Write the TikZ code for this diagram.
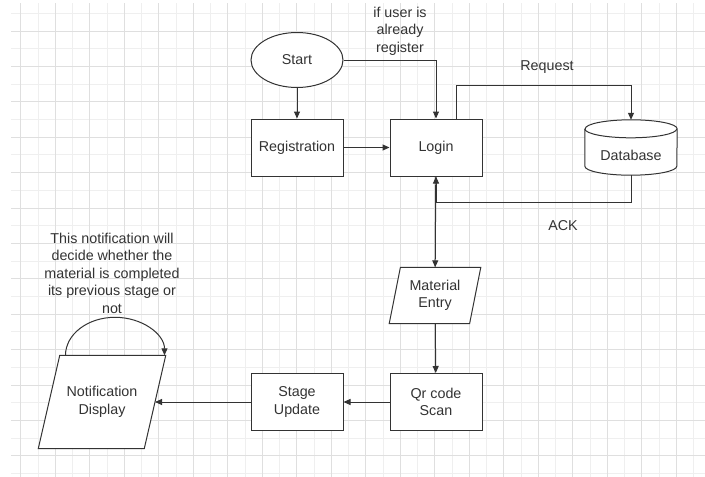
\documentclass[tikz,border=0pt]{standalone}
\usepackage{fontspec}
\setmainfont{Liberation Sans}
\usepackage{tikz}
\usetikzlibrary{arrows.meta,shapes.geometric}

\definecolor{inkc}{HTML}{333333}
\definecolor{gridmaj}{HTML}{DFDFDF}
\definecolor{gridmin}{HTML}{EFEFEF}

\tikzset{
  txt/.style={font=\fontsize{14.3}{17.5}\selectfont, text=inkc, align=center},
  box/.style={txt, draw=inkc, line width=1pt, fill=white, inner sep=2pt,
    minimum width=92pt, minimum height=57pt},
  startnode/.style={box, ellipse, minimum height=55pt},
  frame/.style={draw=none, inner sep=0pt},
  outline/.style={draw=inkc, line width=1pt, fill=white},
  arr/.style={draw=inkc, line width=1pt, -{Triangle[length=7pt,width=6pt]}},
  gridmajor/.style={draw=gridmaj, line width=1pt},
  gridminor/.style={draw=gridmin, line width=1pt}
}

\begin{document}
\begin{tikzpicture}[x=1pt, y=-1pt]
    \useasboundingbox[fill=white] (0,0) rectangle (705,477);
    % background grid
    \foreach \i in {0,...,19}
        \draw[gridminor] ({38+34.5*\i},3) -- ({38+34.5*\i},477);
    \foreach \j in {0,...,13}
        \draw[gridminor] (11,{13.3+35.4*\j}) -- (705,{13.3+35.4*\j});
    \foreach \i in {0,...,19}
        \draw[gridmajor] ({20.7+34.5*\i},3) -- ({20.7+34.5*\i},477);
    \foreach \j in {0,...,12}
        \draw[gridmajor] (11,{31+35.4*\j}) -- (705,{31+35.4*\j});

    % nodes
    \node[startnode] (start) at (297,60) {Start};
    \node[box] (reg) at (297,147.5) {Registration};
    \node[box] (login) at (436,147.5) {Login};
    \node[box] (qr) at (436,402) {Qr code\\Scan};
    \node[box] (stage) at (297,402) {Stage\\Update};

    % database cylinder
    \node[frame, minimum width=92pt, minimum height=55pt] (db) at (631,147.5) {};
    \path[outline]
        ([yshift=-9pt]db.north west) -- ([yshift=9pt]db.south west)
        arc[start angle=180, end angle=360, x radius=46pt, y radius=9pt]
        -- ([yshift=-9pt]db.north east)
        arc[start angle=0, end angle=180, x radius=46pt, y radius=9pt];
    \draw[inkc, line width=1pt] ([yshift=-9pt]db.north west)
        arc[start angle=180, end angle=360, x radius=46pt, y radius=9pt];
    \node[txt] (dbtxt) at (631,155) {Database};

    % parallelograms
    \node[frame, minimum width=80pt, minimum height=56pt] (mat) at (435,295.5) {};
    \path[outline] ([xshift=5.6pt]mat.north west) -- ([xshift=5.6pt]mat.north east)
        -- ([xshift=-5.6pt]mat.south east) -- ([xshift=-5.6pt]mat.south west) -- cycle;
    \node[txt] (mattxt) at (mat) {Material\\Entry};

    \node[frame, minimum width=105.6pt, minimum height=93pt] (notif) at (102,402) {};
    \path[outline] ([xshift=10.75pt]notif.north west) -- ([xshift=10.75pt]notif.north east)
        -- ([xshift=-10.75pt]notif.south east) -- ([xshift=-10.75pt]notif.south west) -- cycle;
    \node[txt] (notiftxt) at (notif) {Notification\\Display};

    % labels
    \node[txt] (condlbl) at (400,31) {if user is\\already\\register};
    \node[txt] (reqlbl) at (547,67) {Request};
    \node[txt] (acklbl) at (563,226) {ACK};
    \node[txt] (notelbl) at (112,273)
        {This notification will\\decide whether the\\material is completed\\its previous stage or\\not};

    \coordinate (reqc) at (631,85);
    \coordinate (ackc) at (436,202);

    % connectors
    \draw[arr] (start) -- (reg);
    \draw[arr] (reg) -- (login);
    \draw[arr] (start.east) -| (login.north);
    \draw[arr] ([xshift=20pt]login.north) |- (reqc) -- (db.north);
    \draw[arr] (db.south) |- (ackc) -- (login.south);
    \draw[arr] (login) -- (mat);
    \draw[arr] (mat) -- (qr);
    \draw[arr] (qr) -- (stage);
    \draw[arr] (stage) -- (notif);
    \draw[arr] ([xshift=16.5pt]notif.north west)
        arc[start angle=180, end angle=0, x radius=49.5pt, y radius=38pt];
\end{tikzpicture}
\end{document}
